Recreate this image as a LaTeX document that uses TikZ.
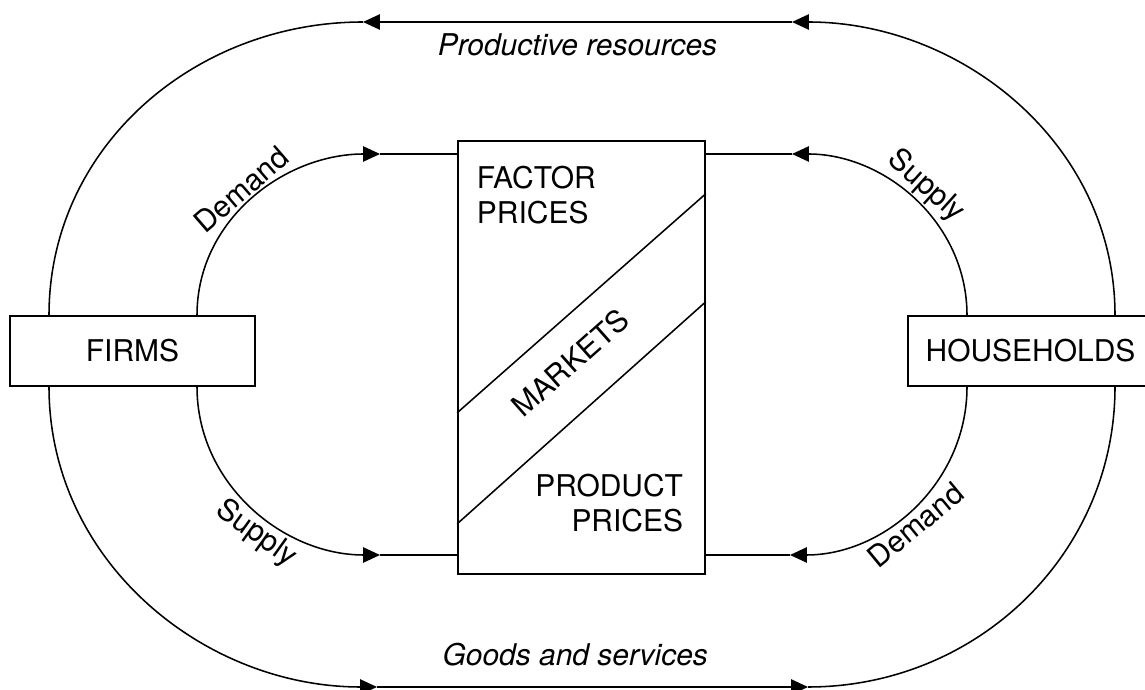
\documentclass[tikz,border=0pt]{standalone}
\usepackage{fontspec}
\setmainfont{TeX Gyre Heros}
\usetikzlibrary{arrows.meta, positioning}

\begin{document}
\begin{tikzpicture}[x=0.025cm, y=0.025cm, line width=1.1pt,
		font=\fontsize{21.3}{25}\selectfont,
		flowtip/.tip={Triangle[length=0.42cm, width=0.38cm]},
		agent/.style={draw, minimum width=6.125cm, minimum height=1.75cm, inner sep=0pt},
		market/.style={draw, minimum width=6.175cm, minimum height=10.825cm, inner sep=0pt},
		flowlabel/.style={sloped, inner sep=2pt}]
		\useasboundingbox (0,0) rectangle (1145,690);

		% agents and the market
		\node[agent] (firms) at (132.5,339) {FIRMS};
		\node[agent] (hh) at (1030.5,339) {HOUSEHOLDS};
		\node[market] (mk) at (581.5,332.5) {};
		\node[align=left, inner sep=0pt, below right=0.625cm and 0.475cm of mk.north west] (fp) {FACTOR\\PRICES};
		\node[align=right, inner sep=0pt, above left=1.05cm and 0.55cm of mk.south east] (pp) {PRODUCT\\PRICES};
		\node[rotate=41.6, inner sep=0pt] (mklabel) at (570,327) {MARKETS};
		\draw ([yshift=4.05cm]mk.south west) -- ([yshift=9.525cm]mk.south east);
		\draw ([yshift=1.275cm]mk.south west) -- ([yshift=6.825cm]mk.south east);

		% where the arcs meet the straight lines
		\coordinate (pr-r) at (792,668);
		\coordinate (pr-l) at (363,668);
		\coordinate (gs-l) at (377,3);
		\coordinate (gs-r) at (808,3);
		\coordinate (fd) at (380,536);
		\coordinate (hs) at (792,536);
		\coordinate (fs) at (380,135);
		\coordinate (hd) at (790,135);

		% outer loop
		\draw[-{flowtip}] (1115,0 |- hh.north) to[out=90, in=0] (pr-r);
		\draw[-{flowtip}] (pr-r) -- (pr-l) node[midway, below=0.27cm, inner sep=0pt] (prtext) {\itshape Productive resources};
		\draw (pr-l) to[out=180, in=90] (49,0 |- firms.north);
		\draw[-{flowtip}] (49,0 |- firms.south) to[out=-90, in=180] (gs-l);
		\draw[-{flowtip}] (gs-l) -- (gs-r) node[pos=0.46, above=0.5cm, inner sep=0pt] (gstext) {\itshape Goods and services};
		\draw (gs-r) to[out=0, in=-90] (1115,0 |- hh.south);

		% inner loop
		\draw[-{flowtip}] (197,0 |- firms.north) to[out=90, in=180] node[flowlabel, pos=0.49, above] {Demand} (fd);
		\draw (fd) -- (fd -| mk.west);
		\draw[-{flowtip}] (967,0 |- hh.north) to[out=90, in=0] node[flowlabel, pos=0.5, above] {Supply} (hs);
		\draw (hs) -- (hs -| mk.east);
		\draw[-{flowtip}] (197,0 |- firms.south) to[out=-90, in=180] node[flowlabel, pos=0.57, below] {Supply} (fs);
		\draw (fs) -- (fs -| mk.west);
		\draw[-{flowtip}] (967,0 |- hh.south) to[out=-90, in=0] node[flowlabel, pos=0.54, below] {Demand} (hd);
		\draw (hd) -- (hd -| mk.east);
	\end{tikzpicture}
\end{document}
